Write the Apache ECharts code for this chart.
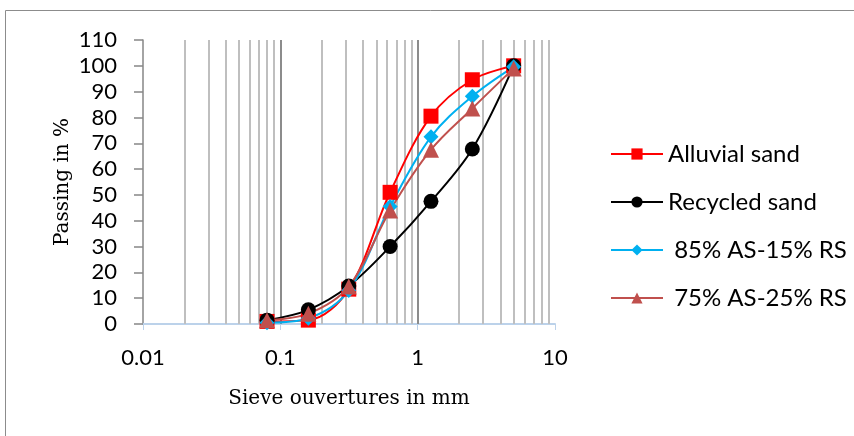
<!DOCTYPE html>
<html><head><meta charset="utf-8">
<script src="https://cdn.jsdelivr.net/npm/echarts@6/dist/echarts.min.js"></script>
<style>html,body{margin:0;padding:0;background:#fff}#c{width:854px;height:436px}</style>
</head><body><div id="c"></div>
<script>
const sieves = [0.08, 0.16, 0.315, 0.63, 1.25, 2.5, 5];
const alluvial = [1, 1.5, 13.5, 51, 80.5, 94.6, 100];
const recycled = [1.5, 5.5, 14.7, 30, 47.5, 67.8, 100];
const mix85 = [0.5, 2.2, 13, 45.5, 72.5, 88.2, 99.6];
const mix75 = [1.5, 4, 14.5, 44, 67.5, 83.5, 99];
const seriesNames = ['Alluvial sand', 'Recycled sand', ' 85% AS-15% RS', ' 75% AS-25% RS'];
const minorGrid = [0.02,0.03,0.04,0.05,0.06,0.07,0.08,0.09,0.2,0.3,0.4,0.5,0.6,0.7,0.8,0.9,2,3,4,5,6,7,8,9];
const majorGrid = [0.1, 1];

const pts = arr => sieves.map((s, i) => [s, arr[i]]);
const chart = echarts.init(document.getElementById('c'), null, {renderer: 'canvas'});
const mk = (name, data, color, symbol, size) => ({
  name, type: 'line', data: pts(data), smooth: 0.35, symbol, symbolSize: size,
  lineStyle: {color, width: 2}, itemStyle: {color}, z: 5
});
chart.setOption({
  animation: false,
  graphic: [{type: 'rect', shape: {x: 5.5, y: 10.5, width: 900, height: 500}, style: {fill: 'none', stroke: '#8c8c8c', lineWidth: 1}}],
  grid: {left: 143, right: 299, top: 40, bottom: 112},
  xAxis: {
    type: 'log', logBase: 10, min: 0.01, max: 10,
    name: 'Sieve ouvertures in mm', nameLocation: 'middle', nameGap: 65,
    nameTextStyle: {fontFamily: 'DejaVu Serif', fontSize: 20, color: '#000'},
    axisLine: {lineStyle: {color: '#bcd2ea', width: 2}},
    axisTick: {show: true, length: 6, lineStyle: {color: '#bcd2ea'}},
    axisLabel: {fontFamily: 'Lato', fontSize: 22, color: '#000', margin: 23},
    splitLine: {show: false}
  },
  yAxis: {
    type: 'value', min: 0, max: 110, interval: 10,
    name: 'Passing in %', nameLocation: 'middle', nameGap: 70,
    nameTextStyle: {fontFamily: 'DejaVu Serif', fontSize: 20, color: '#000'},
    axisLine: {show: true, lineStyle: {color: '#868686', width: 1.5}},
    axisTick: {show: true, length: 9, lineStyle: {color: '#868686', width: 1.5}},
    axisLabel: {fontFamily: 'Lato', fontSize: 22, color: '#000', margin: 26},
    splitLine: {show: false}
  },
  legend: {
    orient: 'vertical', left: 605, top: 137, itemWidth: 52, itemHeight: 14, itemGap: 24,
    textStyle: {fontFamily: 'Lato', fontSize: 24, color: '#000'},
    data: seriesNames
  },
  series: [
    {type: 'line', data: [], silent: true, z: 1,
     markLine: {silent: true, symbol: 'none', label: {show: false}, animation: false,
       data: minorGrid.map(v => ({xAxis: v, lineStyle: {color: '#bfbfbf', width: 2, type: 'solid'}}))
         .concat(majorGrid.map(v => ({xAxis: v, lineStyle: {color: '#8c8c8c', width: 2, type: 'solid'}})))}},
    mk(seriesNames[0], alluvial, '#ff0000', 'rect', 15),
    mk(seriesNames[1], recycled, '#000000', 'circle', 15),
    mk(seriesNames[2], mix85, '#00b0f0', 'diamond', 15),
    mk(seriesNames[3], mix75, '#c0504d', 'triangle', 16)
  ]
});
</script></body></html>
